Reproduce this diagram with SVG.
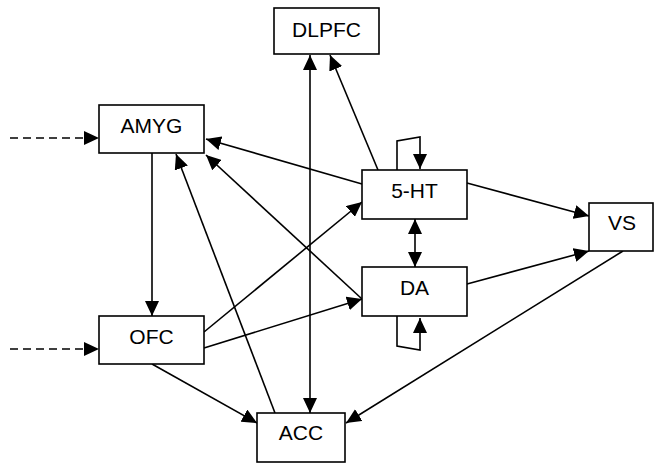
<svg xmlns="http://www.w3.org/2000/svg" width="655" height="464" viewBox="0 0 655 464">
<style>
.box{fill:#fff;stroke:#000;stroke-width:1.6}
.lbl{font-family:"Liberation Sans",Arial,sans-serif;font-size:21px;text-anchor:middle;fill:#000}
.ln{fill:none;stroke:#000;stroke-width:1.6}
.arr{marker-end:url(#ah)}
.dbl{marker-end:url(#ah);marker-start:url(#ah)}
.dash{stroke-dasharray:8,5}
</style>
<defs>
<marker id="ah" markerUnits="userSpaceOnUse" markerWidth="16" markerHeight="14" refX="15" refY="7" orient="auto-start-reverse">
<path d="M0,0 L15,7 L0,14 z" fill="#000"/>
</marker>
</defs>
<rect width="655" height="464" fill="#fff"/>
<g id="connectors">
<line class="ln arr dash" x1="10" y1="138" x2="99" y2="138"/>
<line class="ln arr dash" x1="10" y1="349" x2="99" y2="349"/>
<line class="ln arr" x1="152" y1="153" x2="152" y2="316"/>
<line class="ln arr" x1="204" y1="332" x2="362" y2="202"/>
<line class="ln arr" x1="204" y1="348" x2="362" y2="299"/>
<line class="ln arr" x1="152" y1="364" x2="257" y2="423"/>
<line class="ln arr" x1="275" y1="413" x2="176" y2="154"/>
<line class="ln arr" x1="362" y1="299" x2="206" y2="155"/>
<line class="ln arr" x1="362" y1="184" x2="206" y2="139"/>
<line class="ln arr" x1="378" y1="170" x2="330" y2="55"/>
<line class="ln dbl" x1="310" y1="55" x2="310" y2="413"/>
<line class="ln dbl" x1="415" y1="219" x2="415" y2="267"/>
<line class="ln arr" x1="467" y1="183" x2="589" y2="216"/>
<line class="ln arr" x1="467" y1="284" x2="589" y2="251"/>
<line class="ln arr" x1="623" y1="251" x2="346" y2="423"/>
<path class="ln arr" d="M397,170 L397,141 L420,137 L420,169"/>
<path class="ln arr" d="M397,316 L397,346 L420,350 L420,318"/>
</g>
<g id="DLPFC"><rect class="box" x="274" y="8" width="105" height="46"/><text class="lbl" x="326.5" y="37">DLPFC</text></g>
<g id="AMYG"><rect class="box" x="99" y="105" width="105" height="48"/><text class="lbl" x="151.5" y="133">AMYG</text></g>
<g id="HT5"><rect class="box" x="362" y="170" width="105" height="49"/><text class="lbl" x="414.5" y="198">5-HT</text></g>
<g id="DA"><rect class="box" x="362" y="267" width="105" height="49"/><text class="lbl" x="414.5" y="295">DA</text></g>
<g id="VS"><rect class="box" x="589" y="203" width="64" height="48"/><text class="lbl" x="622" y="230">VS</text></g>
<g id="OFC"><rect class="box" x="99" y="316" width="105" height="48"/><text class="lbl" x="151.5" y="344">OFC</text></g>
<g id="ACC"><rect class="box" x="257" y="413" width="88" height="49"/><text class="lbl" x="301" y="440">ACC</text></g>
</svg>
